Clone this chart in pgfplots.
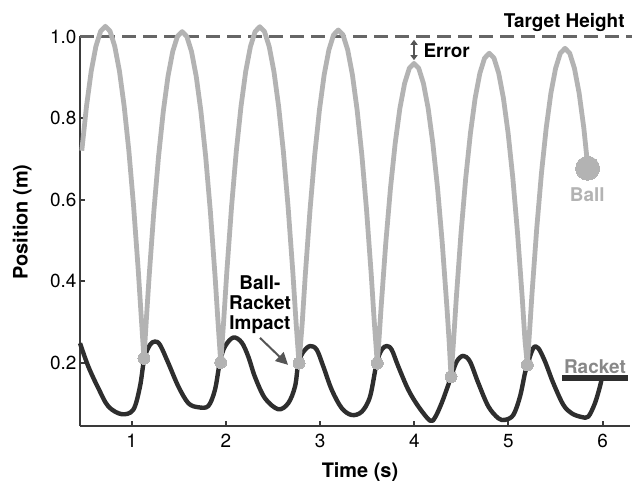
\documentclass[border=0pt]{standalone}
\usepackage{fontspec}
\setmainfont{TeX Gyre Heros}
\usepackage{pgfplots}
\pgfplotsset{compat=1.18}
\usetikzlibrary{arrows.meta}
\definecolor{ballc}{HTML}{B3B3B3}
\definecolor{racketc}{HTML}{2E2E2E}
\definecolor{axc}{HTML}{3A3A3A}
\definecolor{annc}{HTML}{555555}
\definecolor{rlab}{HTML}{888888}
\begin{document}
\begin{tikzpicture}
\path[use as bounding box] (0,0) rectangle (632bp,484bp);
\begin{axis}[
  at={(80bp,58bp)}, anchor=south west,
  scale only axis, width=550bp, height=389.5bp,
  xmin=0.451, xmax=6.29, ymin=0.045, ymax=1.0,
  clip=false,
  axis x line*=bottom, axis y line*=left,
  tick align=inside,
  axis line style={axc, line width=2.5bp, -},
  major tick style={axc, line width=2bp},
  major tick length=5bp,
  xtick={1,2,3,4,5,6},
  ytick={0.2,0.4,0.6,0.8,1.0},
  yticklabel style={/pgf/number format/.cd, fixed, fixed zerofill, precision=1},
  /pgf/number format/assume math mode=true,
  tick label style={font=\fontsize{19}{22}\selectfont},
  xticklabel style={yshift=-5bp},
  label style={font=\fontsize{20}{23}\selectfont\bfseries},
  xlabel={Time (s)},
  ylabel={Position (m)},
  xlabel style={at={(axis description cs:0.509,-0.117)}, anchor=center},
  ylabel style={at={(axis description cs:-0.105,0.524)}, anchor=center},
]
% target height
\addplot[annc!90, line width=2.5bp, dash pattern=on 14bp off 7bp] coordinates {(0.451,1.0) (6.31,1.0)};
% racket
\addplot[racketc, line width=4.4bp, smooth, tension=0.55, line join=round] coordinates {
(0.451,0.248) (0.539,0.191) (0.645,0.138) (0.752,0.093) (0.894,0.074) (1.017,0.085) (1.088,0.142) (1.134,0.211) (1.194,0.244) (1.247,0.252) (1.30,0.244) (1.389,0.199) (1.495,0.142) (1.601,0.101) (1.707,0.091) (1.813,0.094) (1.884,0.134) (1.937,0.203) (1.99,0.240) (2.079,0.262) (2.167,0.250) (2.238,0.215) (2.309,0.165) (2.415,0.113) (2.556,0.086) (2.662,0.101) (2.734,0.142) (2.769,0.199) (2.822,0.227) (2.893,0.241) (2.964,0.232) (3.034,0.191) (3.123,0.134) (3.229,0.089) (3.335,0.072) (3.442,0.080) (3.53,0.117) (3.60,0.199) (3.654,0.232) (3.707,0.241) (3.76,0.232) (3.83,0.191) (3.936,0.134) (4.043,0.093) (4.167,0.058) (4.22,0.066) (4.29,0.101) (4.361,0.146) (4.39,0.166) (4.45,0.203) (4.52,0.217) (4.591,0.203) (4.68,0.15) (4.786,0.093) (4.892,0.064) (4.963,0.06) (5.051,0.072) (5.122,0.117) (5.175,0.175) (5.2,0.195) (5.263,0.236) (5.316,0.236) (5.388,0.203) (5.476,0.15) (5.582,0.097) (5.671,0.076) (5.777,0.067) (5.847,0.068) (5.918,0.101) (5.971,0.142) (5.99,0.162)
};
% racket legend bar
\addplot[racketc, line width=6bp] coordinates {(5.57,0.162) (6.27,0.162)};
% ball
\addplot[ballc, line width=4.8bp, line join=round] coordinates {
(0.47,0.72) (0.52,0.829) (0.57,0.915) (0.62,0.976) (0.67,1.013) (0.72,1.025) (0.77,1.013) (0.82,0.976) (0.87,0.915) (0.92,0.829) (0.97,0.719) (1.02,0.584) (1.07,0.425) (1.10,0.317) (1.13,0.211)
(1.16,0.323) (1.185,0.412) (1.235,0.571) (1.285,0.706) (1.335,0.816) (1.385,0.902) (1.435,0.963) (1.485,1.000) (1.535,1.012) (1.585,1.000) (1.635,0.963) (1.685,0.902) (1.735,0.816) (1.785,0.706) (1.835,0.571) (1.885,0.412) (1.915,0.304) (1.945,0.201)
(1.975,0.298) (2.01,0.424) (2.06,0.583) (2.11,0.718) (2.16,0.828) (2.21,0.914) (2.26,0.975) (2.31,1.012) (2.36,1.024) (2.41,1.012) (2.46,0.975) (2.51,0.914) (2.56,0.828) (2.61,0.718) (2.66,0.583) (2.71,0.424) (2.745,0.298) (2.776,0.199)
(2.81,0.297) (2.843,0.416) (2.893,0.575) (2.943,0.710) (2.993,0.820) (3.043,0.906) (3.093,0.967) (3.143,1.004) (3.193,1.016) (3.243,1.004) (3.293,0.967) (3.343,0.906) (3.393,0.820) (3.443,0.710) (3.493,0.575) (3.543,0.416) (3.575,0.301) (3.607,0.199)
(3.625,0.256) (3.647,0.334) (3.697,0.493) (3.747,0.628) (3.797,0.738) (3.847,0.824) (3.897,0.885) (3.947,0.922) (3.997,0.934) (4.047,0.922) (4.097,0.885) (4.147,0.824) (4.197,0.738) (4.247,0.628) (4.297,0.493) (4.347,0.334) (4.37,0.252) (4.39,0.166)
(4.415,0.248) (4.446,0.359) (4.496,0.518) (4.546,0.653) (4.596,0.763) (4.646,0.849) (4.696,0.910) (4.746,0.947) (4.796,0.959) (4.846,0.947) (4.896,0.910) (4.946,0.849) (4.996,0.763) (5.046,0.653) (5.096,0.518) (5.146,0.359) (5.175,0.255) (5.2,0.195)
(5.225,0.282) (5.25,0.371) (5.30,0.530) (5.35,0.665) (5.40,0.775) (5.45,0.861) (5.50,0.922) (5.55,0.959) (5.60,0.971) (5.65,0.959) (5.70,0.922) (5.75,0.861) (5.80,0.775) (5.84,0.685)
};
% impacts
\addplot[ballc, only marks, mark=*, mark size=6bp, mark options={fill=ballc, draw=ballc, line width=0pt}] coordinates {
(1.13,0.211) (1.945,0.201) (2.776,0.199) (3.607,0.199) (4.39,0.166) (5.2,0.195)
};
% ball end
\addplot[ballc, only marks, mark=*, mark size=12bp, mark options={fill=ballc, draw=ballc, line width=0pt}] coordinates {(5.84,0.677)};
% annotations
\node[anchor=east, font=\fontsize{19}{22}\selectfont\bfseries] at (axis cs:6.27,1.034) {Target Height};
\draw[annc, line width=1.6bp, {Triangle[length=5bp,width=7bp]}-{Triangle[length=5bp,width=7bp]}] (axis cs:3.997,0.992) -- (axis cs:3.997,0.942);
\node[anchor=west, font=\fontsize{19}{22}\selectfont\bfseries, inner sep=0pt] at (axis cs:4.096,0.965) {Error};
\node[font=\fontsize{19}{22}\selectfont\bfseries, text=ballc] at (axis cs:5.836,0.612) {Ball};
\node[font=\fontsize{19}{22}\selectfont\bfseries, text=rlab] at (axis cs:5.918,0.191) {Racket};
\node[align=center, font=\fontsize{19}{20}\selectfont\bfseries] at (axis cs:2.362,0.342) {Ball-\\Racket\\Impact};
\draw[annc, line width=2bp, -{Triangle[length=12bp,width=12bp]}] (axis cs:2.362,0.261) -- (axis cs:2.659,0.195);
\end{axis}
\end{tikzpicture}
\end{document}
